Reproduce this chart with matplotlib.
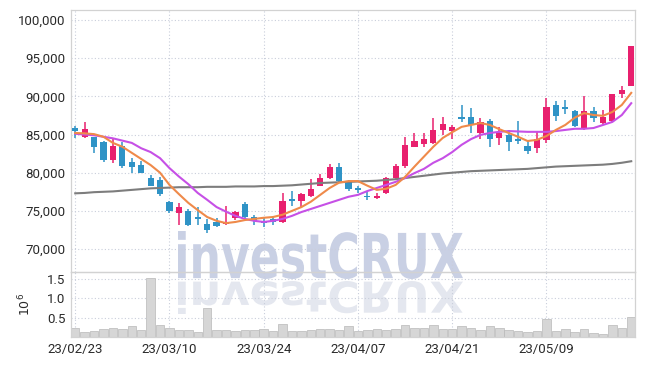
import matplotlib
matplotlib.use("Agg")
import matplotlib.pyplot as plt
from matplotlib.textpath import TextPath
from matplotlib.patches import PathPatch
from matplotlib.font_manager import FontProperties
from matplotlib.transforms import Affine2D
import numpy as np

# ---------------------------------------------------------
# Data
# ---------------------------------------------------------
tick_labels = ["23/02/23", "23/03/10", "23/03/24", "23/04/07", "23/04/21", "23/05/09"]

opens = [85900, 84700, 84700, 84000, 81600, 83500, 81400, 81000, 79300, 79000,
         76200, 74700, 75000, 74150, 73300, 73600, 73300, 74100, 75900, 74200,
         73600, 73950, 73500, 76500, 76300, 76900, 78300, 79300, 80800, 78900,
         78000, 77000, 76700, 77400, 79300, 80900, 83400, 83800, 83900, 85600,
         85500, 87300, 87300, 85200, 86800, 84600, 84900, 84400, 83500, 83200,
         84300, 88900, 88500, 88100, 85700, 88100, 86500, 86800, 90300, 91400]
closes = [85400, 85700, 83400, 81600, 83500, 80900, 80800, 80000, 78300, 77200,
          75000, 75500, 73100, 74000, 72500, 73000, 73500, 74900, 74200, 73700,
          73400, 73600, 76300, 76300, 77200, 77900, 79300, 80800, 78900, 77900,
          77700, 76800, 77000, 79300, 80900, 83600, 84200, 84400, 85600, 86400,
          86000, 87000, 86300, 86600, 84400, 85200, 84000, 84100, 82900, 84400,
          88600, 87400, 88400, 86100, 88100, 87200, 87300, 90300, 90800, 96600]
highs = [86100, 86600, 84700, 84100, 84500, 84000, 81900, 81500, 79700, 79400,
         76300, 76000, 75300, 75500, 73900, 74100, 75700, 75000, 76200, 74500,
         74200, 74300, 77300, 77600, 77400, 79200, 79800, 81100, 81300, 79000,
         78300, 77500, 77300, 79500, 81100, 84700, 85200, 85200, 87200, 87300,
         86300, 88900, 88500, 87200, 87000, 86000, 85600, 86800, 84300, 85300,
         89800, 89400, 89500, 88200, 90000, 88600, 88200, 90300, 91400, 96600]
lows = [84600, 84600, 82600, 81400, 81300, 80600, 80000, 79900, 78200, 77000,
        74700, 73200, 73000, 73200, 72100, 72900, 73100, 73800, 74000, 73200,
        72900, 73200, 73400, 75700, 75500, 76800, 78200, 79200, 78800, 77600,
        77400, 76400, 76500, 77200, 79000, 80600, 83300, 83400, 83800, 85000,
        84400, 86600, 85200, 84400, 83400, 83600, 82900, 83800, 82400, 82600,
        83900, 86800, 87700, 86000, 85600, 86600, 86400, 86700, 89800, 91300]

ma5 = [85200, 85150, 85050, 84700, 83900, 83400, 82600, 81800, 81000, 80000,
       78400, 77200, 76050, 75100, 74200, 73700, 73400, 73550, 73800, 73950,
       74100, 74200, 74500, 75000, 75500, 76200, 77100, 78000, 78700, 78900,
       78900, 78300, 77750, 77900, 78400, 79450, 80800, 82100, 83400, 84550,
       85300, 86000, 86250, 86500, 86250, 85700, 85200, 84700, 84150, 84300,
       84800, 85600, 86250, 87200, 87800, 87550, 87450, 87950, 88870, 90450]
ma10 = [85100, 85000, 84900, 84700, 84500, 84200, 83900, 83200, 82700, 81900,
        80600, 79500, 78500, 77350, 76450, 75500, 74900, 74350, 73950, 73700,
        73550, 73700, 73950, 74350, 74850, 75250, 75650, 76050, 76450, 76850,
        77100, 77600, 78000, 78400, 78800, 79300, 79950, 80500, 81300, 81900,
        82700, 83650, 84400, 84950, 85200, 85350, 85450, 85400, 85350, 85350,
        85350, 85450, 85600, 85750, 85750, 85850, 86250, 86650, 87550, 89100]
ma60 = [77300, 77350, 77450, 77500, 77550, 77650, 77750, 77850, 77950, 78000,
        78050, 78100, 78100, 78100, 78150, 78150, 78150, 78200, 78200, 78200,
        78250, 78250, 78300, 78350, 78450, 78550, 78650, 78700, 78750, 78800,
        78850, 78900, 78950, 79050, 79150, 79300, 79450, 79600, 79750, 79900,
        80000, 80100, 80200, 80250, 80300, 80350, 80400, 80450, 80500, 80600,
        80700, 80800, 80850, 80900, 80950, 81000, 81050, 81150, 81300, 81500]

volume_m = [0.23, 0.13, 0.16, 0.21, 0.23, 0.21, 0.29, 0.19, 1.51, 0.32,
            0.23, 0.19, 0.19, 0.14, 0.74, 0.19, 0.19, 0.16, 0.19, 0.19,
            0.21, 0.16, 0.34, 0.16, 0.16, 0.19, 0.21, 0.21, 0.19, 0.29,
            0.15, 0.19, 0.21, 0.19, 0.21, 0.32, 0.23, 0.23, 0.32, 0.21,
            0.21, 0.29, 0.23, 0.19, 0.29, 0.23, 0.19, 0.16, 0.14, 0.16,
            0.46, 0.16, 0.21, 0.14, 0.21, 0.10, 0.08, 0.32, 0.23, 0.51]

# ---------------------------------------------------------
# Style
# ---------------------------------------------------------
UP = "#e8206e"
DOWN = "#2f93c6"
GRID = "#c9cedb"
SPINE = "#d2d2d2"
TEXT = "#2a2a2a"
W, H = 645, 366

plt.rcParams["font.family"] = ["Roboto", "DejaVu Sans"]

fig = plt.figure(figsize=(W / 100, H / 100), dpi=100)
fig.patch.set_facecolor("white")

ax = fig.add_axes([71 / W, 1 - 272 / H, 564 / W, 262 / H])
axv = fig.add_axes([71 / W, 1 - 337 / H, 564 / W, 65 / H], sharex=ax)
for a in (ax, axv):
    a.set_facecolor("none")
    for s in a.spines.values():
        s.set_color(SPINE)
        s.set_linewidth(0.9)
    a.grid(True, linestyle=(0, (1, 2)), color=GRID, linewidth=0.8)
    a.set_axisbelow(True)
    a.tick_params(length=0, colors=TEXT, labelsize=9.5, pad=4)

# ---------------------------------------------------------
# Watermark (text + mirrored reflection)
# ---------------------------------------------------------
px = Affine2D().scale(1 / W, 1 / H) + fig.transFigure


def fitted_patch(text, x0, x1, y0, y1, color, flip=False):
    """Text path stretched into the pixel box (bottom-origin coords)."""
    tp = TextPath((0, 0), text, size=50,
                  prop=FontProperties(family="DejaVu Sans", weight="bold"))
    ext = tp.get_extents()
    sx = (x1 - x0) / ext.width
    sy = (y1 - y0) / ext.height
    tr = Affine2D().translate(-ext.x0, -ext.y0)
    if flip:
        # baseline side at the top of the box, letters hanging downward
        tr.scale(sx, -sy).translate(x0, y1)
    else:
        tr.scale(sx, sy).translate(x0, y0)
    path = tr.transform_path(tp)
    return PathPatch(path, facecolor=color, edgecolor="none",
                     transform=px, zorder=-5)


# image rows measured from top -> convert to bottom-origin pixels
fig.patches.append(fitted_patch("investCRUX", 178, 463, H - 279, H - 231, "#c9d0e4"))
fig.patches.append(fitted_patch("investCRUX", 178, 463, H - 314, H - 281, "#e4e7ef", flip=True))

# ---------------------------------------------------------
# Candles
# ---------------------------------------------------------
x = np.arange(len(opens))
o = np.array(opens)
c = np.array(closes)
colors = [UP if cc >= oo else DOWN for oo, cc in zip(o, c)]
body_lo = np.minimum(o, c)
body_h = np.maximum(np.abs(c - o), 150)

ax.vlines(x, lows, highs, colors=colors, linewidth=1.1, zorder=2)
ax.bar(x, body_h, bottom=body_lo, width=0.66, color=colors,
       edgecolor="none", zorder=3)

# moving averages
ax.plot(x, ma60, color="#7d7d7d", linewidth=1.5, zorder=4)
ax.plot(x, ma10, color="#c650e6", linewidth=1.5, zorder=4)
ax.plot(x, ma5, color="#ef8a4a", linewidth=1.5, zorder=4)

ax.set_ylim(67000, 101300)
ax.set_yticks(np.arange(70000, 100001, 5000))
ax.set_yticklabels([f"{v:,}" for v in range(70000, 100001, 5000)])
ax.set_xlim(-0.45, 59.4)
plt.setp(ax.get_xticklabels(), visible=False)

# ---------------------------------------------------------
# Volume
# ---------------------------------------------------------
axv.bar(x, volume_m, width=0.9, color="#d6d6d6", edgecolor="#b8b8b8",
        linewidth=0.5, zorder=2)
axv.set_ylim(0, 1.67)
axv.set_yticks([0.5, 1.0, 1.5])
axv.set_yticklabels(["0.5", "1.0", "1.5"])
axv.set_xticks(np.arange(0, 60, 10))
axv.set_xticklabels(tick_labels)
axv.set_ylabel(r"$10^{6}$", color=TEXT, fontsize=9)
axv.yaxis.set_label_coords(-(71 - 33) / 564, 0.5)

fig.savefig("out.png", dpi=100, facecolor="white")
